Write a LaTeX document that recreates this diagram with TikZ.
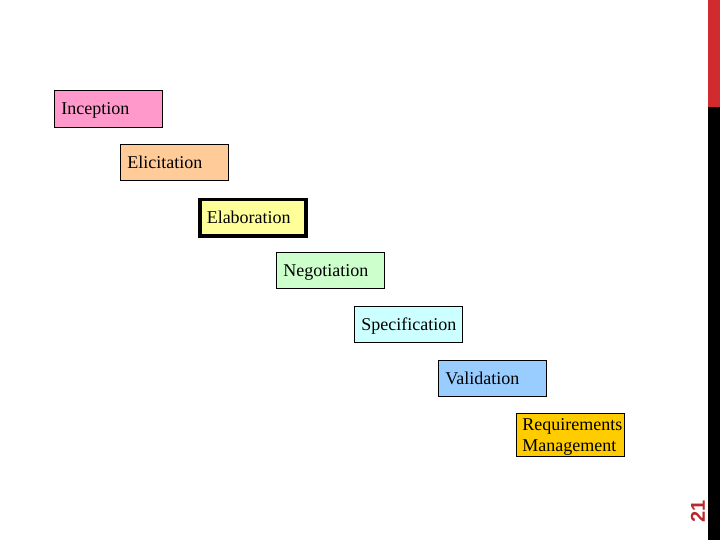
\documentclass[tikz,border=0pt]{standalone}
\usepackage{fontspec}
\setmainfont{Liberation Serif}
\setsansfont{Liberation Sans}
\usepackage{tikz}
\usetikzlibrary{positioning}
\definecolor{incep}{HTML}{FF99CC}
\definecolor{elicit}{HTML}{FFCC99}
\definecolor{elab}{HTML}{FFFF99}
\definecolor{negot}{HTML}{CCFFCC}
\definecolor{specif}{HTML}{CCFFFF}
\definecolor{valid}{HTML}{99CCFF}
\definecolor{reqman}{HTML}{FFCC00}
\definecolor{slidered}{HTML}{D22B2F}
\definecolor{numred}{HTML}{B8282C}

\begin{document}
\begin{tikzpicture}[
  x=1pt, y=-1pt,
  phase/.style={rectangle, draw=black, line width=0.8pt, anchor=north west, text width=94pt, align=left,
    minimum height=36pt, inner xsep=7pt, inner ysep=2pt, text height=16pt, text depth=4pt,
    font=\fontsize{18}{21}\selectfont}
]
  \useasboundingbox (0,0) rectangle (720,540);

  % slide edge
  \fill[slidered] (708,0) rectangle (720,107);
  \fill[black] (708,107) rectangle (720,540);
  \node[rotate=90, text=numred, font=\sffamily\bfseries\fontsize{20}{20}\selectfont, inner sep=0pt] (pagenum) at (698,511) {21};

  % phases
  \node[phase, fill=incep, minimum height=37pt] (inception) at (54,90) {Inception};
  \node[phase, fill=elicit] (elicitation) at (120,144) {Elicitation};
  \node[phase, fill=elab, line width=3.5pt, text width=92pt] (elaboration) at (198,198) {Elaboration};
  \node[phase, fill=negot] (negotiation) at (276,252) {Negotiation};
  \node[phase, fill=specif] (specification) at (354,306) {Specification};
  \node[phase, fill=valid] (validation) at (438,360) {Validation};
  \node[phase, fill=reqman, minimum height=43pt, inner xsep=6pt, text width=96pt, inner ysep=1pt,
    text height=15pt, text depth=24pt] (management) at (516,413) {Requirements\\Management};
\end{tikzpicture}
\end{document}
